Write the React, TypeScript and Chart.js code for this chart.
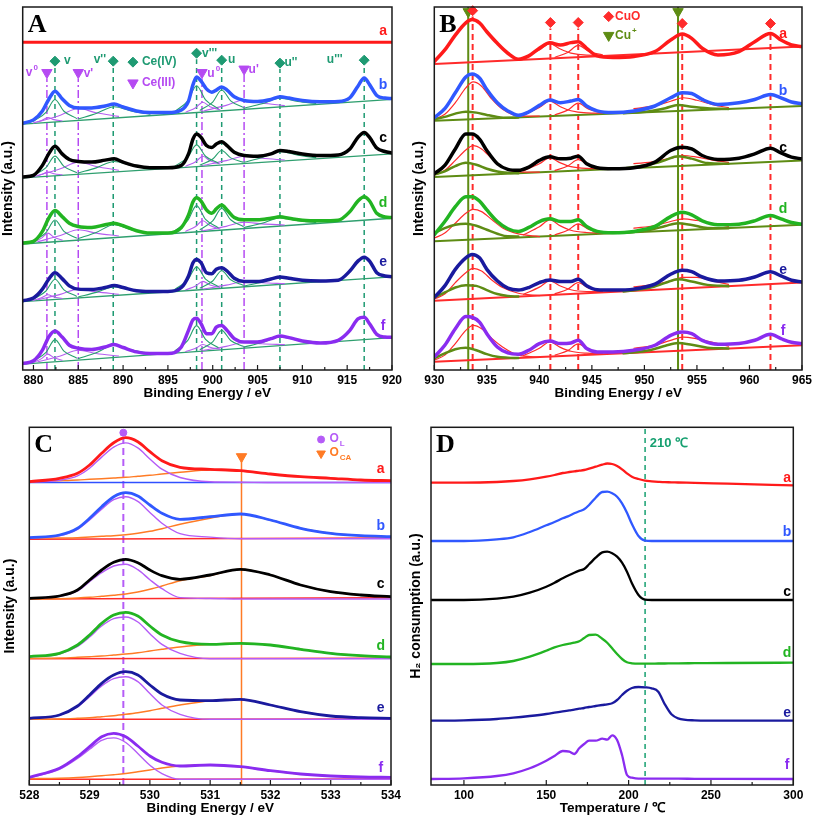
import { useEffect, useRef } from "react";
import { Chart, registerables } from "chart.js";

Chart.register(...registerables);

// ================= Panel A : Ce 3d XPS =================
const ceEnergy = [878.8, 880, 881, 881.7, 882.4, 883.2, 884, 885, 886.5, 888, 889, 890, 891.5, 893, 895, 896.5, 897.3, 897.8, 898.2, 898.7, 899.3, 899.9, 900.4, 901, 901.6, 902.4, 903.5, 905, 906.5, 907.5, 908.5, 910, 912, 914, 915.3, 916.2, 916.9, 917.5, 918.3, 919.2, 920];
const ceEdge = [878.8, 920];
const ceSpectrumA = [331, 331];
const ceSpectrumB = [249.3, 252.7, 261.7, 273.3, 281.7, 274, 267.3, 264.7, 264.7, 266.7, 268.7, 265.7, 261.7, 260, 260, 262.7, 271.7, 288.3, 296, 291.7, 284, 280.7, 282.7, 286, 282.7, 276, 272.3, 271.3, 273.3, 276, 274.7, 272.3, 271, 271.3, 275, 286.7, 295, 288.3, 277.3, 274.7, 274.3];
const ceSpectrumC = [195, 196.7, 206.7, 218.3, 226, 218.3, 212.7, 210.7, 210, 212, 213.3, 210, 206, 204.3, 204.3, 206.7, 218.3, 233.3, 238.3, 235, 226.7, 224.7, 228.3, 230.7, 226.7, 220, 216.7, 216, 218.3, 221.7, 220.7, 218.3, 216.7, 217.3, 223.3, 235, 240, 235, 224.3, 220.7, 219.3];
const ceSpectrumD = [128.3, 130, 140, 153.3, 161, 155, 148.3, 145, 144, 146.7, 148.3, 145.7, 140.7, 138.3, 138.3, 144, 156.7, 170, 174, 170.7, 161.7, 158.3, 162.7, 166.7, 161.7, 154, 151.7, 151.7, 153.3, 154.7, 153.3, 151.3, 150.7, 151.3, 160, 170.7, 175, 170.7, 158.3, 154.7, 154];
const ceSpectrumE = [70, 72.7, 81.7, 91.7, 98.3, 92.3, 85, 81.7, 81.3, 83.3, 85.3, 83.3, 80, 79.3, 79.3, 83.3, 95, 108.3, 111.7, 108.3, 98.3, 97.3, 101.7, 103.3, 100, 92.7, 89.3, 89.3, 92, 94, 92.7, 90.7, 90, 90.7, 100, 110, 114, 110, 98.3, 95, 94.3];
const ceSpectrumF = [6.7, 9.3, 20, 33.3, 39.3, 33.3, 25, 22, 20.7, 23.3, 25.7, 22.7, 18.3, 16.7, 16.7, 23.3, 40, 50.7, 52.3, 46.7, 36.7, 36.7, 43.3, 45, 40, 31.7, 28.3, 28.3, 31.7, 34.3, 32.7, 29.3, 27.3, 30, 40, 51.7, 53.3, 46.7, 36, 33.3, 33];
const ceBaseB = [248.3, 273.3];
const ceBaseC = [194, 218.3];
const ceBaseD = [127.3, 153.3];
const ceBaseE = [69, 94];
const ceBaseF = [6, 32.7];
// fitted components (Ce4+ green: v, v'', v''', u, u'' ; Ce3+ purple: v0, v', u0, u')
const ceVE = [880.0, 881.4, 882.4, 883.4, 884.8];
const ceV2E = [885.0, 887.0, 889.0, 891.0, 893.0];
const ceV3E = [895.8, 897.2, 898.2, 899.2, 900.6];
const ceUE = [898.6, 900.0, 901.0, 902.0, 903.4];
const ceU2E = [903.5, 905.5, 907.5, 909.5, 911.5];
const ceV0E = [880.0, 880.9, 881.6, 882.3, 883.2];
const ceVpE = [880.5, 883.0, 885.0, 887.0, 889.5];
const ceU0E = [897.0, 898.1, 898.9, 899.7, 900.8];
const ceUpE = [899.0, 901.5, 903.5, 905.5, 908.0];
const ceVB = [251.3, 260.2, 273.3, 261.4, 254.2];
const ceV2B = [253.5, 259.1, 266, 261.5, 258.3];
const ceV3B = [261.3, 271.7, 287.1, 272.9, 264.2];
const ceUB = [262.4, 270.7, 282.8, 271.9, 265.3];
const ceU2B = [264.4, 268.9, 274.5, 271.3, 269.2];
const ceV0B = [249.6, 252.1, 255, 252.9, 251.6];
const ceVpB = [250.7, 257.4, 264.1, 259.9, 256.2];
const ceU0B = [260.5, 265, 270.5, 266, 262.9];
const ceUpB = [261.7, 267.3, 272.8, 269.7, 267.1];
const ceVC = [196.7, 204.5, 216.1, 205.7, 199.5];
const ceV2C = [199, 204.2, 210.7, 206.6, 203.7];
const ceV3C = [206.2, 214.8, 227.4, 215.9, 209.1];
const ceUC = [207.2, 213.1, 221.7, 214.3, 210];
const ceU2C = [209.8, 214.7, 220.7, 217, 214.5];
const ceV0C = [195.2, 197.4, 200, 198.3, 197.1];
const ceVpC = [196.5, 203.3, 210, 205.6, 201.8];
const ceU0C = [205.9, 210.4, 215.9, 211.3, 208.2];
const ceUpC = [206.8, 211.5, 216, 213.9, 212.1];
const ceVD = [130.3, 138.8, 151.6, 140.1, 133.3];
const ceV2D = [132.8, 139, 146.7, 141.5, 137.9];
const ceV3D = [140.7, 150.8, 166, 152.1, 143.8];
const ceUD = [142, 150.6, 163.3, 151.8, 145];
const ceU2D = [143.9, 148.3, 153.7, 150.9, 148.9];
const ceV0D = [129.2, 133.2, 138.3, 134.1, 131.2];
const ceVpD = [129.7, 135.8, 141.7, 138.3, 135.4];
const ceU0D = [140.1, 144.9, 150.7, 145.9, 142.5];
const ceUpD = [140.8, 145.1, 149.3, 147.6, 146.5];
const ceVEs = [71.7, 79.8, 91.7, 81, 74.6];
const ceV2Es = [73.8, 78.4, 83.9, 80.8, 78.6];
const ceV3Es = [81.6, 90.7, 104.2, 91.9, 84.5];
const ceUEs = [82.8, 89.9, 100.2, 91.1, 85.7];
const ceU2Es = [84.8, 88.6, 93.2, 91, 89.6];
const ceV0Es = [70.3, 73, 76, 73.8, 72.3];
const ceVpEs = [71.1, 76.4, 81.7, 78.9, 76.6];
const ceU0Es = [81, 84.9, 89.5, 85.9, 83.4];
const ceUpEs = [81.9, 85.7, 89.2, 88.1, 87.3];
const ceVF = [9, 17.8, 30.7, 19.1, 12.1];
const ceV2F = [11.5, 17.5, 25, 20.1, 16.7];
const ceV3F = [19.6, 29.7, 44.8, 31, 22.7];
const ceUF = [20.8, 28.5, 40, 29.8, 23.9];
const ceU2F = [23.1, 27.7, 33.4, 30.3, 28.3];
const ceV0F = [7.8, 11.5, 16, 12.4, 9.9];
const ceVpF = [8.3, 14.1, 19.9, 16.7, 14.1];
const ceU0F = [18.6, 21.9, 25.8, 22.9, 21.1];
const ceUpF = [19.8, 23.9, 27.8, 26.5, 25.6];
const ceIVPeaks = [882.4, 888.9, 898.2, 901.0, 907.5, 916.9];
const ceIVMarkY = [312, 312, 320, 313, 310, 313];
const ceIIIPeaks = [881.5, 885.0, 898.8, 903.5];
const ceIIIMarkY = [300.5, 300.5, 300.5, 304];
const ceTicks = [880, 885, 890, 895, 900, 905, 910, 915, 920];
const ceMinor = [882.5, 887.5, 892.5, 897.5, 902.5, 907.5, 912.5, 917.5];

// ================= Panel B : Cu 2p XPS =================
const cuEnergy = [930, 931, 932, 933, 933.6, 934.3, 935, 936, 937, 938, 939, 940, 941, 942, 943, 943.7, 944.5, 945.5, 947, 949, 951, 952.5, 953.6, 954.5, 955.5, 957, 959, 960.5, 962, 963, 964, 965];
const cuSpectrumA = [311.7, 323.3, 338.3, 350.7, 354, 350.7, 341.7, 330, 320, 314, 317.3, 325, 330.7, 328.3, 330.7, 331.7, 325, 317.3, 315.7, 316.7, 321.7, 333.3, 339.3, 335, 325, 318.3, 321.7, 331.7, 340, 333.3, 328.3, 326.7];
const cuSpectrumB = [255, 264, 280, 296, 299, 295, 283.3, 270, 261.7, 257.3, 260.7, 267.3, 272.7, 270, 271.7, 273.3, 266.7, 261.7, 260, 261.7, 266.7, 275, 280, 279.3, 273.3, 268.3, 270, 273.3, 278.3, 275, 270.7, 269];
const cuSpectrumC = [198.3, 206.7, 223.3, 238.3, 238.3, 233.3, 221.7, 208.3, 202.7, 201.7, 205, 211.7, 215.3, 213.3, 214, 216, 208.3, 204.3, 203.3, 204.3, 210, 221.7, 225, 223.3, 216.7, 212.7, 214, 218.3, 224, 219.3, 215, 213.3];
const cuSpectrumD = [136.7, 150, 165, 175, 175, 170.7, 161.7, 150, 142.7, 140, 144, 150, 152.7, 150, 150, 151.7, 145, 140, 138.7, 140, 145, 155, 159.3, 156.7, 150.7, 146.7, 147.3, 150.7, 156, 152.7, 149, 147.3];
const cuSpectrumE = [73.3, 85, 101.7, 113.3, 116.7, 113.3, 101.7, 90, 82.7, 80.7, 83.3, 88.3, 91, 89.3, 89.3, 91.7, 85, 81, 80.7, 81.7, 86.7, 96.7, 100.7, 99.3, 94, 90, 90.7, 94, 99.3, 95, 90.7, 89];
const cuSpectrumF = [13.3, 25, 41.7, 54, 53.3, 48.3, 36.7, 23.3, 17.3, 16, 20, 26.7, 29.3, 26.7, 27.3, 30, 21.7, 18.3, 18.3, 20, 25, 35, 38.3, 36.7, 30, 26, 26.7, 30, 36, 31.7, 28, 26.7];
const cuEdge = [930, 965];
const cuBaseA = [309, 326.7];
const cuBaseB = [251.7, 266.7];
const cuBaseC = [195, 211.7];
const cuBaseD = [130, 146.7];
const cuBaseE = [70, 88.3];
const cuBaseF = [8.3, 25];
const cuPlusMainE = [930, 931, 932, 933, 934, 935, 936, 937, 938];
const cuPlusMainB = [253.3, 255.7, 259, 261, 260, 257.7, 255.7, 254.7, 255];
const cuPlusMainC = [197.3, 200.7, 206, 209.3, 207.3, 203.3, 200.5, 199.2, 198.8];
const cuPlusMainD = [138.3, 143.3, 146.7, 147.7, 145.7, 141.7, 137.7, 135, 134.8];
const cuPlusMainEs = [73.3, 78.3, 83.3, 85.7, 85, 80.7, 76.7, 74.8, 74.2];
const cuPlusMainF = [11.7, 16.7, 21, 22.5, 20, 16, 13.3, 12.5, 12.1];
const cuPlusSatE = [948, 950.5, 952, 953.2, 954.5, 956, 958];
const cuPlusSatB = [259.4, 261.5, 264.5, 267.7, 266, 264.5, 263.7];
const cuPlusSatC = [203.6, 207.5, 212, 216, 213.5, 209, 208.3];
const cuPlusSatD = [138.6, 141.5, 145.5, 148.3, 146.5, 143.5, 143.3];
const cuPlusSatEs = [79.4, 83, 88, 91.7, 89.5, 86, 84.7];
const cuPlusSatF = [16.9, 20, 24.5, 27.3, 25.5, 22.5, 21.7];
const cuOMainE = [930, 931, 932, 933, 933.7, 934.5, 935.5, 936.5, 938, 940];
const cuOMainB = [253.3, 258.3, 270, 285, 291, 286.7, 273.3, 263.3, 256.7, 256.5];
const cuOMainC = [196.7, 201.7, 211.7, 222.3, 226.7, 223.3, 213.3, 205, 200, 199.8];
const cuOMainD = [133.3, 138.3, 148.3, 158.3, 162.3, 160, 151.7, 143.5, 137.5, 134.8];
const cuOMainEs = [71.7, 76.7, 88.3, 98.3, 102.7, 100, 90.7, 83.3, 77.5, 75.2];
const cuOMainF = [10, 15, 26.7, 40, 45, 41.7, 31.7, 23.3, 15, 13.1];
const cuOSatE = [949, 951, 952.5, 953.7, 955, 956.5, 958];
const cuOSatB = [264, 267, 271.5, 275, 272.5, 268, 265];
const cuOSatC = [208.5, 210.5, 214, 216.7, 215, 212, 209.7];
const cuOSatD = [143.3, 146, 150, 152.7, 151, 148, 145];
const cuOSatEs = [84, 86.5, 90, 93.5, 93.5, 90, 86.5];
const cuOSatF = [22, 25, 30, 33.3, 31.5, 28, 24];
const cuShake1E = [938.5, 940, 941, 942, 943, 944.5, 946];
const cuShake1A = [315.6, 323.2, 329.7, 324.2, 320.1, 318.1, 317.9];
const cuShake1B = [257.6, 265.2, 271.7, 266, 261.9, 259.7, 259.4];
const cuShake1C = [201.2, 208.3, 214.3, 209.2, 205.4, 203.6, 203.3];
const cuShake1D = [136.6, 144.7, 151.7, 145.6, 141.2, 138.9, 138.4];
const cuShake1Es = [76.5, 83.7, 90, 84.8, 81.1, 79.3, 79.1];
const cuShake1F = [14.6, 22, 28.3, 22.9, 18.9, 17, 16.6];
const cuShake2E = [941.5, 942.7, 943.7, 944.7, 946];
const cuShake2A = [316, 320.8, 327.9, 321.8, 318.5];
const cuShake2B = [257.8, 262.5, 269.5, 263.4, 260];
const cuShake2C = [201.6, 206.1, 212.5, 207, 203.9];
const cuShake2D = [136.6, 141.1, 147.7, 142, 138.9];
const cuShake2Es = [77.1, 81.6, 88.2, 82.7, 79.7];
const cuShake2F = [15, 19.6, 26.3, 20.5, 17.3];
const cuOPeaks = [933.65, 941.05, 943.7, 953.6, 962.0];
const cuOMarkY = [363, 351, 351, 350, 350];
const cuPlusPeaks = [933.23, 953.2];
const cuPlusMarkY = [362, 362];
const cuTicks = [930, 935, 940, 945, 950, 955, 960, 965];
const cuMinor = [932.5, 937.5, 942.5, 947.5, 952.5, 957.5, 962.5];

// ================= Panel C : O 1s XPS =================
const oEnergy = [528, 528.5, 528.8, 529.0, 529.2, 529.4, 529.6, 529.8, 530.0, 530.2, 530.5, 531.0, 531.5, 532.0, 532.5, 533.0, 533.5, 534];
const oEdge = [528, 534];
const oEnvA = [303.3, 306.7, 311.7, 320, 331.7, 342.3, 347.3, 343.3, 333.3, 324.3, 317.7, 315.7, 314.3, 311, 308.3, 306.7, 305, 304.3];
const oLatA = [302.5, 304.8, 309.2, 316.8, 327.9, 337.8, 342.1, 337.1, 326.1, 315.8, 307.5, 303.2, 302.8, 302.5, 302.5, 302.5, 302.5, 302.5];
const oChemA = [303.3, 304.3, 305, 305.7, 306.3, 307, 307.7, 308.7, 309.7, 311, 312.7, 315, 314, 311, 308.3, 306.7, 305, 304.3];
const oBaseA = [302.5, 302.5];
const oEnvB = [247.3, 250, 256.7, 266.7, 278.3, 288.3, 292.3, 289, 280, 271.7, 265.7, 268.3, 271, 265, 256.7, 251.7, 249.3, 248.3];
const oLatB = [246.9, 249.3, 255.7, 265, 275.9, 285.3, 288.3, 283.6, 272.6, 261.7, 251.3, 247.9, 246.3, 246.3, 246.3, 246.3, 246.3, 246.3];
const oChemB = [246.7, 247, 247.3, 248, 248.7, 249.3, 250.3, 251.7, 253.7, 256.3, 260.7, 266.7, 271, 265, 256.7, 251.7, 249.3, 248.3];
const oBaseB = [245.7, 247];
const oEnvC = [186.7, 189, 195, 205, 215, 222.7, 225.7, 222.3, 215, 209.3, 205.7, 210, 215.7, 210, 200, 193.3, 190, 188.3];
const oLatC = [186.7, 188.7, 194, 203.3, 212.3, 219, 220.7, 215.3, 205.3, 196.3, 187.4, 186.5, 186, 186, 186, 186, 186, 186];
const oChemC = [186, 186.3, 187, 187.7, 188.7, 189.7, 191, 193, 195.7, 199, 204.3, 209.5, 215.7, 210, 200, 193.3, 190, 188.3];
const oBaseC = [186, 187.3];
const oEnvD = [128.3, 131.7, 140, 150, 161.7, 170, 172.7, 169, 159, 150, 143.3, 140.7, 141.7, 140, 135.7, 131.7, 129.3, 128];
const oLatD = [127.9, 131, 138.6, 148, 159, 166.3, 168, 163, 151.3, 140.6, 131.6, 126.3, 126.3, 126.3, 126.3, 126.3, 126.3, 126.3];
const oChemD = [126.7, 127, 127.7, 128.3, 129, 130, 131, 132.3, 134, 135.7, 138, 140.7, 141.7, 140, 135.7, 131.7, 129.3, 128];
const oBaseD = [126.3, 126.7];
const oEnvE = [66.7, 70, 79, 90, 101.7, 110, 113.3, 110, 100, 91, 85, 84.3, 85.7, 80, 73.3, 69, 67.3, 66.7];
const oLatE = [66.7, 69.7, 78, 88.4, 99.1, 106.4, 108.3, 103.4, 91.4, 80, 70.7, 65.7, 65.7, 65.7, 65.7, 65.7, 65.7, 65.7];
const oChemE = [65.7, 66, 66.7, 67.3, 68.3, 69.3, 70.7, 72.3, 74.3, 76.7, 80, 84.3, 85.7, 80, 73.3, 69, 67.3, 66.7];
const oBaseE = [65.7, 66];
const oEnvF = [7.7, 16.7, 28.3, 38.3, 48.3, 51.7, 48.3, 39, 29, 22.7, 19, 20, 18.3, 14.3, 11, 9, 8, 7.7];
const oLatF = [7.1, 15.6, 26.5, 35.7, 44.7, 47.1, 42.5, 31.5, 19.7, 11.4, 5.7, 5.7, 5.7, 5.7, 5.7, 5.7, 5.7, 5.7];
const oChemF = [6.3, 6.8, 7.5, 8.3, 9.3, 10.3, 11.5, 13.2, 15, 17, 19, 20, 18.3, 14.3, 11, 9, 8, 7.7];
const oBaseF = [5.7, 6];
const oPeaks = [529.56, 531.52];
const oMarkY = [352.3, 328.3];
const oTicks = [528, 529, 530, 531, 532, 533, 534];
const oMinor = [528.5, 529.5, 530.5, 531.5, 532.5, 533.5];

// ================= Panel D : H2-TPR =================
const tprTemp = [80, 100, 120, 130, 140, 150, 155, 160, 164, 167, 170, 173, 176, 180, 184, 187, 190, 193, 196, 199, 202, 206, 210, 214, 218, 222, 226, 230, 240, 260, 300];
const tprA = [302.3, 302.3, 303, 304, 305.7, 308.3, 310, 312, 313, 313.7, 314.3, 315, 316.3, 318.3, 320.3, 321.5, 321, 319, 315.7, 311.7, 308.3, 306, 304.3, 303.7, 303.2, 302.8, 302.7, 302.5, 302.2, 301.3, 299.7];
const tprB = [244, 244, 245.7, 247.7, 253, 259.7, 263, 266.7, 269.3, 271.7, 273.7, 275.7, 280, 287.3, 293, 293.3, 291.7, 288.3, 281.7, 272.3, 261, 249, 244.3, 244, 244, 244, 244, 244, 244, 244, 244];
const tprC = [185, 185, 186.3, 188.3, 192.3, 198.3, 202.3, 206.7, 210, 212.3, 214.3, 216, 220.7, 227.3, 232.7, 233.3, 231.7, 228.3, 222.3, 213.3, 201.7, 190, 185.3, 185, 185, 185, 185, 185, 185, 185, 185];
const tprD = [121, 121, 122, 124, 128.3, 134.3, 137.7, 140, 141.3, 142.3, 143.7, 147, 150, 150.3, 146.3, 142.3, 136.7, 131, 126, 122.7, 121.7, 121.3, 121.3, 121.3, 121.5, 121.5, 121.7, 121.7, 121.8, 122, 122.3];
const tprE = [64.3, 64.7, 66, 67.3, 69, 71, 72.3, 73.7, 74.7, 75.3, 76.3, 77, 78, 79, 80, 80.7, 81.7, 85, 90, 94.3, 97, 98, 97.7, 96.7, 93.3, 80.7, 70.7, 66.7, 64.7, 64.3, 64.3];
const tprF = [6, 6.7, 9, 11.7, 16.7, 24.3, 29, 34, 33.3, 31, 36.7, 41, 44.3, 44.3, 46.3, 45.3, 49.7, 45, 30, 10, 7.3, 6.3, 6.3, 6.3, 6.3, 6.3, 6.3, 6.3, 6.2, 6.1, 6];
const tprTicks = [100, 150, 200, 250, 300];
const tprMinor = [125, 175, 225, 275];
const tprMarkTemp = 210;

// ================= styling =================
const SANS = 'Arial, "Liberation Sans", Helvetica, sans-serif';
const SERIF = '"Liberation Serif", "Times New Roman", Times, serif';
const RED = "#ff1a1a";
const BLUE = "#3058ff";
const BLACK = "#000000";
const GREEN = "#22b422";
const NAVY = "#1a1a9e";
const VIOLET = "#8a2cf0";
const CE4 = "#1e9a72";
const CE3 = "#b54af2";
const CEBASE = "#2f9f6f";
const CECOMP4 = "#27a06e";
const CECOMP3 = "#b45ef0";
const CURED = "#ff2b2b";
const OLIVE = "#5e8c14";
const OLC = "#b55cf7";
const OCAC = "#ff7b25";
const DGREEN = "#16a070";

const curve = (xs: number[], ys: number[], color: string, width: number, order = 0, dash: number[] = [], smooth = true) => ({
  data: xs.map((x, i) => ({ x, y: ys[i] })),
  borderColor: color,
  backgroundColor: color,
  borderWidth: width,
  borderDash: dash,
  borderJoinStyle: "round",
  borderCapStyle: dash.length ? "butt" : "round",
  pointRadius: 0,
  pointHoverRadius: 0,
  fill: false,
  tension: 0,
  cubicInterpolationMode: smooth ? "monotone" : "default",
  order,
});
const vline = (x: number, y0: number, y1: number, color: string, width: number, dash: number[] = []) =>
  curve([x, x], [y0, y1], color, width, 3, dash, false);
const marks = (xs: number[], ys: number[], color: string, style: string, radius: number, rotation = 0) => ({
  data: xs.map((x, i) => ({ x, y: ys[i] })),
  showLine: false,
  pointStyle: style,
  pointRadius: radius,
  pointHoverRadius: radius,
  pointRotation: rotation,
  pointBackgroundColor: color,
  pointBorderColor: color,
  pointBorderWidth: 1,
  clip: false,
  order: -1,
});

type Txt = { x: number; y: number; text: string; color: string; size?: number; align?: string; sup?: string; sub?: string };
const labelSet = (x: number, ys: number[]): Txt[] =>
  ["a", "b", "c", "d", "e", "f"].map((t, i) => ({ x, y: ys[i], text: t, color: [RED, BLUE, BLACK, GREEN, NAVY, VIOLET][i], size: 14, align: "center" }));

function buildA() {
  const envs = [ceSpectrumB, ceSpectrumC, ceSpectrumD, ceSpectrumE, ceSpectrumF];
  const cols = [BLUE, BLACK, GREEN, NAVY, VIOLET];
  const ds: any[] = [curve(ceEdge, ceSpectrumA, RED, 3)];
  envs.forEach((e, i) => ds.push(curve(ceEnergy, e, cols[i], 3.5)));
  const comp4: [number[], number[][]][] = [
    [ceVE, [ceVB, ceVC, ceVD, ceVEs, ceVF]],
    [ceV2E, [ceV2B, ceV2C, ceV2D, ceV2Es, ceV2F]],
    [ceV3E, [ceV3B, ceV3C, ceV3D, ceV3Es, ceV3F]],
    [ceUE, [ceUB, ceUC, ceUD, ceUEs, ceUF]],
    [ceU2E, [ceU2B, ceU2C, ceU2D, ceU2Es, ceU2F]],
  ];
  const comp3: [number[], number[][]][] = [
    [ceV0E, [ceV0B, ceV0C, ceV0D, ceV0Es, ceV0F]],
    [ceVpE, [ceVpB, ceVpC, ceVpD, ceVpEs, ceVpF]],
    [ceU0E, [ceU0B, ceU0C, ceU0D, ceU0Es, ceU0F]],
    [ceUpE, [ceUpB, ceUpC, ceUpD, ceUpEs, ceUpF]],
  ];
  comp4.forEach(([xs, list]) => list.forEach((ys) => ds.push(curve(xs, ys, CECOMP4, 1.1, 1))));
  comp3.forEach(([xs, list]) => list.forEach((ys) => ds.push(curve(xs, ys, CECOMP3, 1.1, 1))));
  [ceBaseB, ceBaseC, ceBaseD, ceBaseE, ceBaseF].forEach((b) => ds.push(curve(ceEdge, b, CEBASE, 1.3, 2)));
  ceIVPeaks.forEach((p, i) => ds.push(vline(p, 0, ceIVMarkY[i] - 6, CE4, 1.5, [5, 4])));
  ceIIIPeaks.forEach((p, i) => ds.push(vline(p, 0, ceIIIMarkY[i] - 6, CE3, 1.5, [8, 3, 2, 3])));
  ds.push(marks(ceIVPeaks, ceIVMarkY, CE4, "rectRot", 5));
  ds.push(marks(ceIIIPeaks, ceIIIMarkY, CE3, "triangle", 6, 180));
  ds.push(marks([891.1], [311], CE4, "rectRot", 5));
  ds.push(marks([891.1], [290], CE3, "triangle", 6, 180));
  const texts: Txt[] = [
    ...labelSet(919.0, [342, 288, 234, 169, 109, 44]),
    { x: 883.4, y: 312, text: "v", color: CE4 },
    { x: 888.1, y: 313, text: "v''", color: CE4, align: "right" },
    { x: 898.8, y: 320, text: "v'''", color: CE4 },
    { x: 901.7, y: 313, text: "u", color: CE4 },
    { x: 908.0, y: 310, text: "u''", color: CE4 },
    { x: 914.5, y: 313, text: "u'''", color: CE4, align: "right" },
    { x: 880.5, y: 300.5, text: "v", sup: "0", color: CE3, align: "right" },
    { x: 885.6, y: 299.5, text: "v'", color: CE3 },
    { x: 899.4, y: 299.5, text: "u", sup: "0", color: CE3 },
    { x: 904.0, y: 303, text: "u'", color: CE3 },
    { x: 892.1, y: 311, text: "Ce(IV)", color: CE4 },
    { x: 892.1, y: 290, text: "Ce(III)", color: CE3 },
  ];
  return {
    left: 0, top: 0, width: 405, height: 405, pad: { top: 3.3, right: 13 }, yWidth: 22.7, xHeight: 35,
    xMin: 878.8, xMax: 920, yMax: 366.7, majors: ceTicks, minors: ceMinor,
    xTitle: "Binding Energy / eV", yTitle: "Intensity (a.u.)", xTitlePad: 3.5, yTitlePad: 0,
    letter: "A", datasets: ds, texts,
  };
}

function buildB() {
  const ds: any[] = [];
  const envs = [cuSpectrumA, cuSpectrumB, cuSpectrumC, cuSpectrumD, cuSpectrumE, cuSpectrumF];
  const cols = [RED, BLUE, BLACK, GREEN, NAVY, VIOLET];
  envs.forEach((e, i) => ds.push(curve(cuEnergy, e, cols[i], 3.5)));
  const bases = [cuBaseA, cuBaseB, cuBaseC, cuBaseD, cuBaseE, cuBaseF];
  const baseCols = [CURED, OLIVE, OLIVE, OLIVE, CURED, CURED];
  bases.forEach((b, i) => ds.push(curve(cuEdge, b, baseCols[i], 2, 2)));
  [cuPlusMainB, cuPlusMainC, cuPlusMainD, cuPlusMainEs, cuPlusMainF].forEach((c) => ds.push(curve(cuPlusMainE, c, OLIVE, 2.5, 1)));
  [cuPlusSatB, cuPlusSatC, cuPlusSatD, cuPlusSatEs, cuPlusSatF].forEach((c) => ds.push(curve(cuPlusSatE, c, OLIVE, 2.5, 1)));
  [cuOMainB, cuOMainC, cuOMainD, cuOMainEs, cuOMainF].forEach((c) => ds.push(curve(cuOMainE, c, CURED, 1.2, 1)));
  [cuOSatB, cuOSatC, cuOSatD, cuOSatEs, cuOSatF].forEach((c) => ds.push(curve(cuOSatE, c, CURED, 1.2, 1)));
  [cuShake1A, cuShake1B, cuShake1C, cuShake1D, cuShake1Es, cuShake1F].forEach((c) => ds.push(curve(cuShake1E, c, CURED, 1.2, 1)));
  [cuShake2A, cuShake2B, cuShake2C, cuShake2D, cuShake2Es, cuShake2F].forEach((c) => ds.push(curve(cuShake2E, c, CURED, 1.2, 1)));
  cuOPeaks.forEach((p, i) => ds.push(vline(p, 0, cuOMarkY[i] - 6, CURED, 2, [6, 4])));
  cuPlusPeaks.forEach((p) => ds.push(vline(p, 0, 366.7, OLIVE, 2)));
  ds.push(marks(cuOPeaks, cuOMarkY, CURED, "rectRot", 5));
  ds.push(marks(cuPlusPeaks, cuPlusMarkY, OLIVE, "triangle", 6, 180));
  ds.push(marks([946.6], [357], CURED, "rectRot", 5));
  ds.push(marks([946.6], [338], OLIVE, "triangle", 6, 180));
  const texts: Txt[] = [
    ...labelSet(963.2, [339, 282, 224, 163, 101, 39]),
    { x: 947.2, y: 357, text: "CuO", color: CURED, size: 12 },
    { x: 947.2, y: 338, text: "Cu", sup: "+", color: OLIVE, size: 12 },
  ];
  return {
    left: 405, top: 0, width: 410, height: 405, pad: { top: 3.3, right: 12.3 }, yWidth: 29.3, xHeight: 35,
    xMin: 930, xMax: 965, yMax: 366.7, majors: cuTicks, minors: cuMinor,
    xTitle: "Binding Energy / eV", yTitle: "Intensity (a.u.)", xTitlePad: 3.5, yTitlePad: 5.5,
    letter: "B", datasets: ds, texts,
  };
}

function buildC() {
  const ds: any[] = [];
  const envs = [oEnvA, oEnvB, oEnvC, oEnvD, oEnvE, oEnvF];
  const cols = [RED, BLUE, BLACK, GREEN, NAVY, VIOLET];
  envs.forEach((e, i) => ds.push(curve(oEnergy, e, cols[i], 2.8)));
  [oLatA, oLatB, oLatC, oLatD, oLatE, oLatF].forEach((c) => ds.push(curve(oEnergy, c, OLC, 1.4, 1)));
  [oChemA, oChemB, oChemC, oChemD, oChemE, oChemF].forEach((c) => ds.push(curve(oEnergy, c, OCAC, 1.4, 1)));
  const bases = [oBaseA, oBaseB, oBaseC, oBaseD, oBaseE, oBaseF];
  bases.forEach((b, i) => ds.push(curve(oEdge, b, i === 0 ? "#3050ff" : CURED, 1.4, 2)));
  ds.push(vline(oPeaks[0], 0, oMarkY[0] - 5, OLC, 2, [7, 4]));
  ds.push(vline(oPeaks[1], 0, oMarkY[1], OCAC, 1.5));
  ds.push(marks([oPeaks[0]], [oMarkY[0]], OLC, "circle", 3.5));
  ds.push(marks([oPeaks[1]], [oMarkY[1]], OCAC, "triangle", 6, 180));
  ds.push(marks([532.84], [345.5], OLC, "circle", 3.5));
  ds.push(marks([532.84], [331.5], OCAC, "triangle", 5, 180));
  const texts: Txt[] = [
    ...labelSet(533.83, [316, 259, 201, 139, 77, 17]),
    { x: 532.98, y: 346.5, text: "O", sub: "L", color: OLC, size: 12 },
    { x: 532.98, y: 332, text: "O", sub: "CA", color: OCAC, size: 12 },
  ];
  return {
    left: 0, top: 405, width: 405, height: 413, pad: { top: 22.3, right: 14 }, yWidth: 29.3, xHeight: 33,
    xMin: 528, xMax: 534, yMax: 357.7, majors: oTicks, minors: oMinor,
    xTitle: "Binding Energy / eV", yTitle: "Intensity (a.u.)", xTitlePad: 1.5, yTitlePad: 2,
    letter: "C", datasets: ds, texts,
  };
}

function buildD() {
  const ds: any[] = [];
  const envs = [tprA, tprB, tprC, tprD, tprE, tprF];
  const cols = [RED, BLUE, BLACK, GREEN, NAVY, VIOLET];
  envs.forEach((e, i) => ds.push(curve(tprTemp, e, cols[i], 2.3)));
  ds.push(vline(tprMarkTemp, 0, 357.7, DGREEN, 1.5, [5, 4]));
  const texts: Txt[] = [
    ...labelSet(296.2, [307, 253, 193, 132, 72, 20]),
    { x: 212.9, y: 342, text: "210 ℃", color: DGREEN, size: 13 },
  ];
  return {
    left: 405, top: 405, width: 410, height: 413, pad: { top: 22.3, right: 21.7 }, yWidth: 26, xHeight: 33,
    xMin: 80, xMax: 300, yMax: 357.7, majors: tprTicks, minors: tprMinor,
    xTitle: "Temperature / ℃", yTitle: "H₂ consumption (a.u.)", xTitlePad: 1.5, yTitlePad: 3,
    letter: "D", datasets: ds, texts,
  };
}

function drawTxt(ctx: CanvasRenderingContext2D, t: Txt, px: number, py: number) {
  const size = t.size ?? 12;
  const small = Math.round(size * 0.65);
  const extra = t.sup ?? t.sub ?? "";
  ctx.font = `bold ${size}px ${SANS}`;
  const w = ctx.measureText(t.text).width;
  ctx.font = `bold ${small}px ${SANS}`;
  const w2 = extra ? ctx.measureText(extra).width + 1 : 0;
  const total = w + w2;
  let sx = px;
  if (t.align === "right") sx = px - total;
  else if (t.align === "center") sx = px - total / 2;
  ctx.fillStyle = t.color;
  ctx.textAlign = "left";
  ctx.textBaseline = "middle";
  ctx.font = `bold ${size}px ${SANS}`;
  ctx.fillText(t.text, sx, py);
  if (extra) {
    ctx.font = `bold ${small}px ${SANS}`;
    const dy = t.sup ? -size * 0.4 : size * 0.4;
    ctx.fillText(extra, sx + w + 1, py + dy);
  }
}

function Panel({ build }: { build: () => any }) {
  const ref = useRef<HTMLCanvasElement>(null);
  const cfg = build();
  useEffect(() => {
    const c = build();
    const deco = {
      id: "deco",
      afterDraw(chart: any) {
        const { ctx, chartArea: a } = chart;
        const xs = chart.scales.x;
        const ys = chart.scales.y;
        ctx.save();
        ctx.strokeStyle = "#1a1a1a";
        ctx.lineWidth = 1.5;
        ctx.strokeRect(a.left, a.top, a.right - a.left, a.bottom - a.top);
        ctx.lineWidth = 1.2;
        ctx.beginPath();
        c.majors.forEach((v: number) => {
          const p = xs.getPixelForValue(v);
          ctx.moveTo(p, a.bottom);
          ctx.lineTo(p, a.bottom - 5);
        });
        c.minors.forEach((v: number) => {
          const p = xs.getPixelForValue(v);
          ctx.moveTo(p, a.bottom);
          ctx.lineTo(p, a.bottom - 3);
        });
        ctx.stroke();
        c.texts.forEach((t: Txt) => drawTxt(ctx, t, xs.getPixelForValue(t.x), ys.getPixelForValue(t.y)));
        ctx.font = `bold 26px ${SERIF}`;
        ctx.fillStyle = "#000";
        ctx.textAlign = "left";
        ctx.textBaseline = "alphabetic";
        ctx.fillText(c.letter, a.left + 5, a.top + 24.5);
        ctx.restore();
      },
    };
    const chart = new Chart(ref.current as HTMLCanvasElement, {
      type: "line",
      data: { datasets: c.datasets },
      options: {
        animation: false,
        responsive: false,
        maintainAspectRatio: false,
        devicePixelRatio: 1,
        events: [],
        layout: { padding: { top: c.pad.top, right: c.pad.right, left: 0, bottom: 0 } },
        plugins: { legend: { display: false }, tooltip: { enabled: false } },
        scales: {
          x: {
            type: "linear",
            min: c.xMin,
            max: c.xMax,
            afterBuildTicks: (s: any) => {
              s.ticks = c.majors.map((v: number) => ({ value: v }));
            },
            afterFit: (s: any) => {
              s.height = c.xHeight;
            },
            ticks: { color: "#000", font: { family: SANS, size: 12, weight: "bold" }, padding: 3, maxRotation: 0, autoSkip: false },
            grid: { display: false, drawTicks: false, tickLength: 0 },
            border: { display: false },
            title: { display: true, text: c.xTitle, color: "#000", font: { family: SANS, size: 13.5, weight: "bold" }, padding: { top: 0, bottom: c.xTitlePad } },
          },
          y: {
            type: "linear",
            min: 0,
            max: c.yMax,
            afterFit: (s: any) => {
              s.width = c.yWidth;
            },
            ticks: { display: false },
            grid: { display: false, drawTicks: false, tickLength: 0 },
            border: { display: false },
            title: { display: true, text: c.yTitle, color: "#000", font: { family: SANS, size: 14, weight: "bold" }, padding: { top: c.yTitlePad, bottom: 0 } },
          },
        },
      } as any,
      plugins: [deco],
    } as any);
    return () => chart.destroy();
  }, []);
  return <canvas ref={ref} width={cfg.width} height={cfg.height} style={{ position: "absolute", left: cfg.left, top: cfg.top }} />;
}

export default function App() {
  return (
    <div style={{ position: "absolute", left: 0, top: 0, width: 813, height: 818, overflow: "hidden", background: "#fff" }}>
      <Panel build={buildA} />
      <Panel build={buildB} />
      <Panel build={buildC} />
      <Panel build={buildD} />
    </div>
  );
}
